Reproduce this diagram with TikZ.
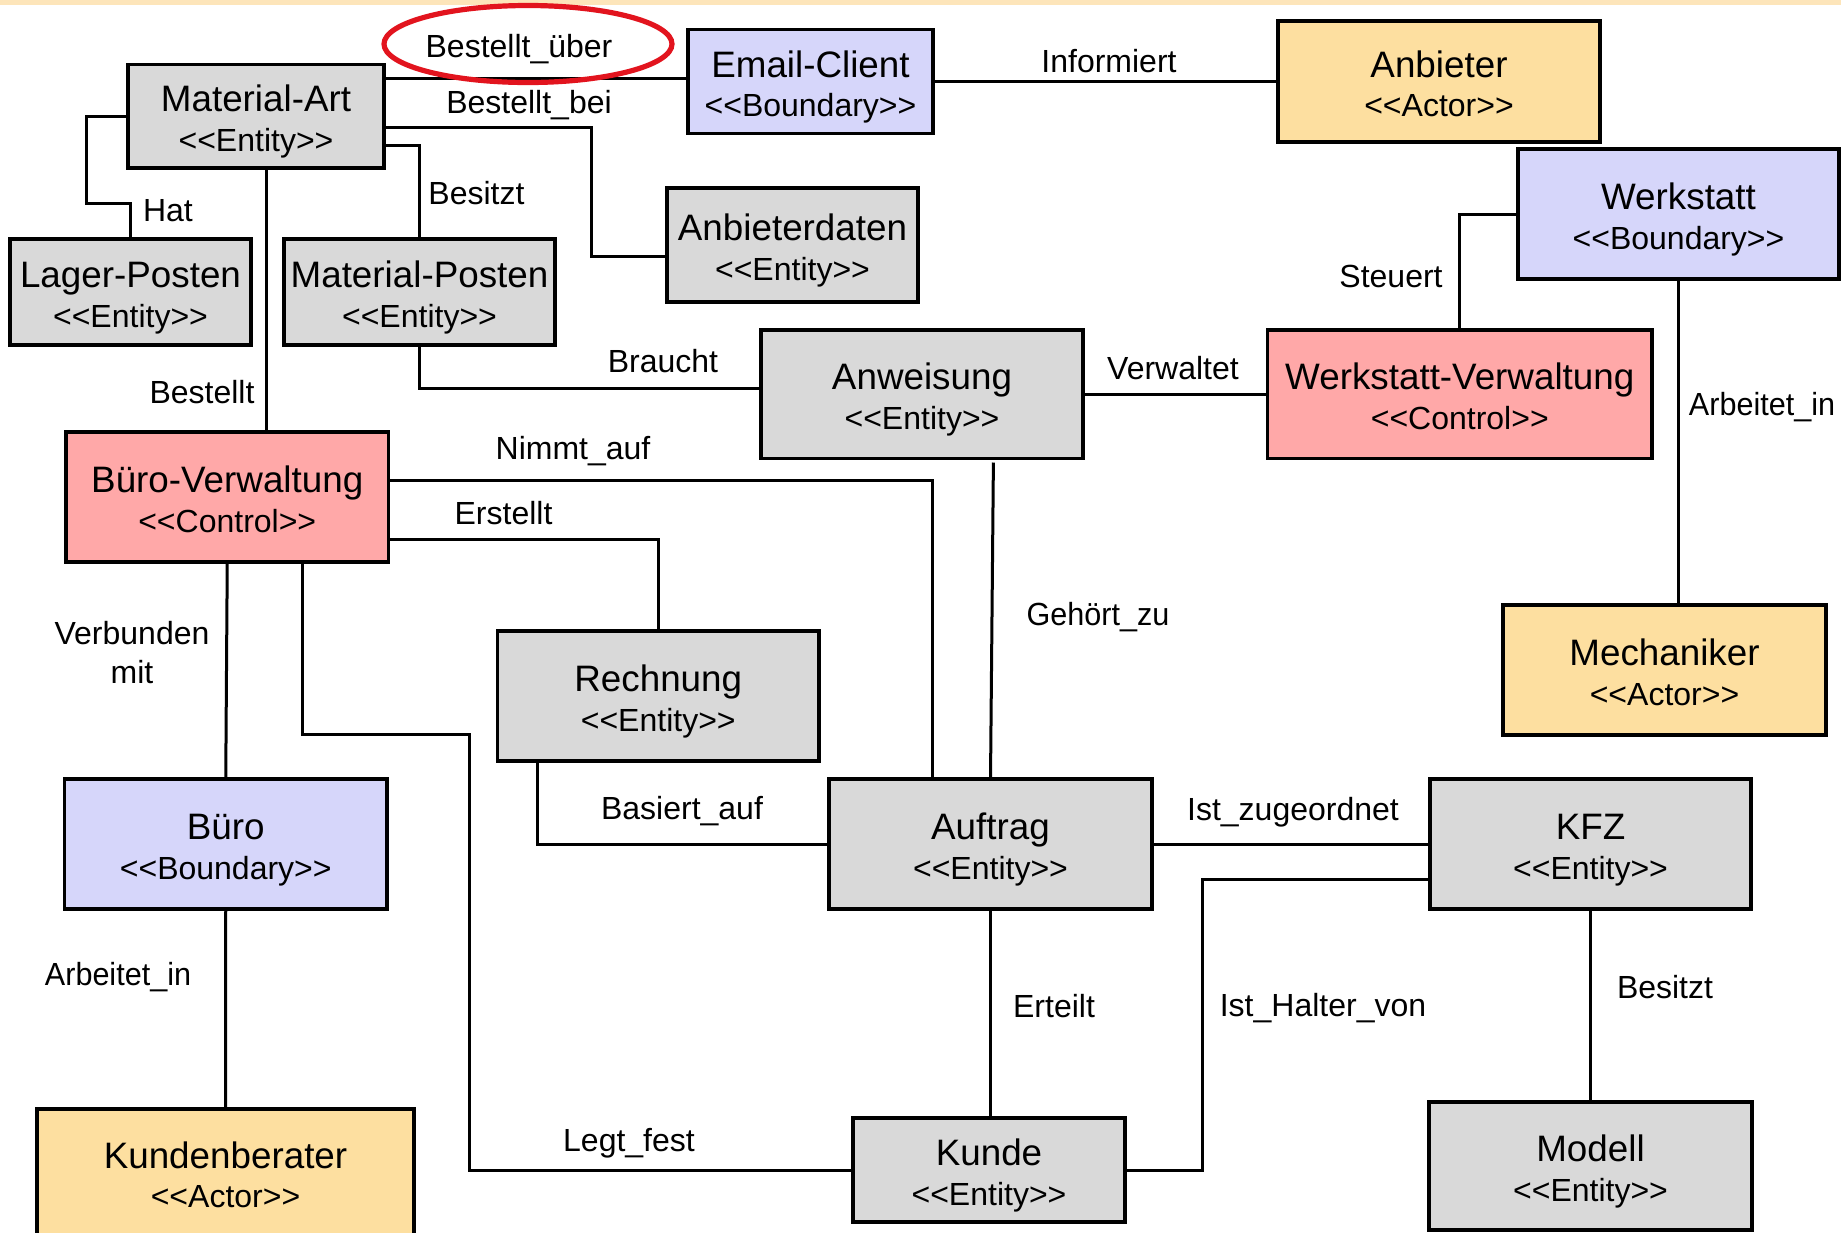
\documentclass[tikz,border=0pt]{standalone}
\usepackage{fontspec}
\setmainfont{Liberation Sans}
\definecolor{entc}{RGB}{217,217,217}
\definecolor{bndc}{RGB}{214,214,250}
\definecolor{ctlc}{RGB}{255,168,168}
\definecolor{actc}{RGB}{253,223,160}
\definecolor{barc}{RGB}{253,229,186}
\definecolor{hlred}{RGB}{226,20,30}
\newcommand\umlbox[8]{%
  \pgfmathsetmacro\bxc{(#3+#5)/2}%
  \pgfmathsetmacro\byc{(#4+#6)/2}%
  \pgfmathsetmacro\bwd{(#5-#3)/2}%
  \pgfmathsetmacro\bht{(#6-#4)/2}%
  \node[ubox,#2,minimum width=\bwd pt,minimum height=\bht pt] (#1) at (\bxc,\byc) {};
  \node[boxname] (#1-n) at ([yshift=2.25pt]#1.center) {#7};
  \node[boxst] (#1-s) at ([yshift=-17.5pt]#1.center) {<\kern0pt<#8>\kern0pt>};
}
\newcommand\narrowtext[1]{\scalebox{0.955}[1]{#1}}
\begin{document}
\begin{tikzpicture}[x=0.5pt,y=-0.5pt,
  ubox/.style={draw=black,line width=1.75pt,inner sep=0pt,outer sep=0pt},
  entity/.style={fill=entc},
  boundary/.style={fill=bndc},
  control/.style={fill=ctlc},
  actor/.style={fill=actc},
  boxname/.style={anchor=base,inner sep=0pt,font=\fontsize{18.4}{22}\selectfont},
  boxst/.style={anchor=base,inner sep=0pt,font=\fontsize{16}{19}\selectfont},
  lbl/.style={anchor=base,inner sep=0pt,font=\fontsize{16}{19}\selectfont},
  conn/.style={draw=black,line width=1.5pt}]
\useasboundingbox (0,0) rectangle (1841,1232);
\clip (0,0) rectangle (1841,1232);
\fill[barc] (0,0) rectangle (1841,4.7);

% boxes
\umlbox{ma}{entity}{128}{64.6}{384}{168}{Material-Art}{Entity}
\umlbox{ec}{boundary}{688}{29.5}{933}{133.5}{Email-Client}{Boundary}
\umlbox{ab}{actor}{1278}{21}{1600}{142}{Anbieter}{Actor}
\umlbox{ws}{boundary}{1518}{149}{1839}{279}{Werkstatt}{Boundary}
\umlbox{lp}{entity}{10}{239}{251}{345}{Lager-Posten}{Entity}
\umlbox{mp}{entity}{284}{239}{555}{345}{Material-Posten}{Entity}
\umlbox{ad}{entity}{667}{188}{918}{302}{Anbieterdaten}{Entity}
\umlbox{aw}{entity}{761}{330}{1083}{458.5}{Anweisung}{Entity}
\umlbox{wv}{control}{1267.5}{330}{1652}{458.5}{Werkstatt-Verwaltung}{Control}
\umlbox{bv}{control}{66}{432}{388.5}{562}{Büro-Verwaltung}{Control}
\umlbox{re}{entity}{497.5}{631}{819}{761}{Rechnung}{Entity}
\umlbox{me}{actor}{1503}{605}{1826}{735}{Mechaniker}{Actor}
\umlbox{bu}{boundary}{64.5}{779}{387}{909}{Büro}{Boundary}
\umlbox{au}{entity}{829}{779}{1152}{909}{Auftrag}{Entity}
\umlbox{kf}{entity}{1430}{779}{1751}{909}{KFZ}{Entity}
\umlbox{kb}{actor}{37}{1109}{414}{1236}{Kundenberater}{Actor}
\umlbox{ku}{entity}{853}{1118}{1125}{1222}{Kunde}{Entity}
\umlbox{mo}{entity}{1429}{1102}{1752}{1230}{Modell}{Entity}

% connectors
\draw[conn] (ma.east |- 0,78) -- (ec.west |- 0,78);
\draw[conn] (ma.east |- 0,127) -| (591.5,256.7) -- (ad.west |- 0,256.7);
\draw[conn] (ma.east |- 0,145.7) -| (mp.north);
\draw[conn] (ma.west |- 0,116.7) -| (86,203) -| (lp.north);
\draw[conn] (ma.south -| 266,0) -- (bv.north -| 266,0);
\draw[conn] (ec.east |- 0,81) -- (ab.west |- 0,81);
\draw[conn] (mp.south) |- (aw.west |- 0,388);
\draw[conn] (ws.west) -| (wv.north);
\draw[conn] (ws.south) -- (ws.south |- me.north);
\draw[conn] (aw.east) -- (wv.west |- aw.east);
\draw[conn] ([shift={(35.7pt,-2pt)}]aw.south) -- (au.north);
\draw[conn] (bv.east |- 0,480) -| (au.north -| 932,0);
\draw[conn] (bv.east |- 0,539.3) -| (re.north);
\draw[conn] (bv.south) -- (bu.north);
\draw[conn] (bv.south -| 302,0) |- (469.5,734) |- (ku.west);
\draw[conn] (re.south -| 537,0) |- (au.west);
\draw[conn] (bu.south) -- (kb.north);
\draw[conn] (au.east) -- (kf.west);
\draw[conn] (kf.west |- 0,879.3) -| (ku.east -| 1202.4,0) -- (ku.east);
\draw[conn] (au.south) -- (au.south |- ku.north);
\draw[conn] (kf.south) -- (mo.north);

% highlight
\draw[hlred,line width=2.6pt] (528,44) ellipse [x radius=72pt,y radius=19.25pt];

% labels
\node[lbl] (l1) at (519,57) {Bestellt\_über};
\node[lbl] (l2) at (529,113) {Bestellt\_bei};
\node[lbl] (l3) at (476.5,204) {Besitzt};
\node[lbl] (l4) at (168,221) {Hat};
\node[lbl] (l5) at (202,403) {Bestellt};
\node[lbl] (l6) at (1109,72) {Informiert};
\node[lbl] (l7) at (663,372) {Braucht};
\node[lbl] (l8) at (1391,287) {Steuert};
\node[lbl] (l9) at (1173,379) {Verwaltet};
\node[lbl] (l10) at (1762,415) {\narrowtext{Arbeitet\_in}};
\node[lbl] (l11) at (573,459) {Nimmt\_auf};
\node[lbl] (l12) at (503.5,524) {Erstellt};
\node[lbl] (l13a) at (132,644) {Verbunden};
\node[lbl] (l13b) at (132,683) {mit};
\node[lbl] (l14) at (1098,625) {\narrowtext{Gehört\_zu}};
\node[lbl] (l15) at (682,819) {Basiert\_auf};
\node[lbl] (l16) at (1293,820) {Ist\_zugeordnet};
\node[lbl] (l17) at (118,985.5) {\narrowtext{Arbeitet\_in}};
\node[lbl] (l18) at (629,1151.5) {Legt\_fest};
\node[lbl] (l19) at (1054,1017) {Erteilt};
\node[lbl] (l20) at (1323,1016) {Ist\_Halter\_von};
\node[lbl] (l21) at (1665,998) {Besitzt};
\end{tikzpicture}
\end{document}
